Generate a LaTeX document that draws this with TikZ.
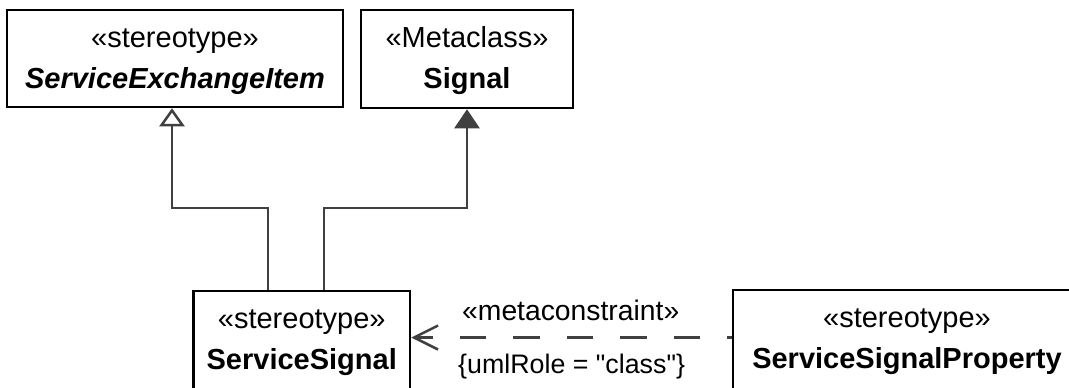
\documentclass[tikz,border=0pt]{standalone}
\usepackage{fontspec}
\setmainfont{Liberation Sans}
\newfontfamily\plainsans{Liberation Sans}[Ligatures=TeXOff]
\usetikzlibrary{arrows.meta}
\definecolor{conncol}{HTML}{404040}
\tikzset{
  umlbox/.style={draw=black, line width=2.5pt, rectangle, inner sep=0pt},
  boxtext/.style={anchor=base, inner sep=0pt, font=\fontsize{29pt}{34pt}\selectfont},
  labeltext/.style={anchor=base west, inner sep=0pt, font=\plainsans\fontsize{#1}{32pt}\selectfont},
  conn/.style={draw=conncol, line width=2.5pt},
}
\begin{document}
\begin{tikzpicture}[x=1pt, y=-1pt]
\useasboundingbox (0,0) rectangle (1069,388);
% boxes
\node[umlbox, minimum width=336pt, minimum height=97pt] (sei) at (175,58.5) {};
\node[umlbox, minimum width=212pt, minimum height=98pt] (sig) at (467,59) {};
\node[umlbox, minimum width=216.5pt, minimum height=149pt] (ss) at (301.75,365.5) {};
\node[umlbox, minimum width=348pt, minimum height=150pt] (ssp) at (907,365) {};
% texts
\node[boxtext] (sei-st) at (175,47) {«stereotype»};
\node[boxtext] (sei-nm) at (175,88) {\bfseries\itshape ServiceExchangeItem};
\node[boxtext] (sig-st) at (467,47) {«Metaclass»};
\node[boxtext] (sig-nm) at (467,88) {\bfseries Signal};
\node[boxtext] (ss-st) at (301.75,328) {«stereotype»};
\node[boxtext] (ss-nm) at (301.75,369) {\bfseries ServiceSignal};
\node[boxtext] (ssp-st) at (907,327) {«stereotype»};
\node[boxtext] (ssp-nm) at (907,368) {\bfseries ServiceSignalProperty};
% connector helpers
\coordinate (j1) at (268,208);
\coordinate (j2) at (324,208);
\coordinate (a1) at (172,0);
\coordinate (dy) at (0,337.5);
% generalization to ServiceExchangeItem (open triangle)
\draw[conn, -{Triangle[open, length=18pt, width=25pt, line width=2.5pt]}]
  (ss.north -| j1) -- (j1) -| (sei.south -| a1);
% extension to Signal (filled triangle)
\draw[conn, -{Triangle[length=19pt, width=25pt, fill=conncol]}]
  (ss.north -| j2) -- (j2) -| (sig.south);
% metaconstraint dependency
\draw[conn, dash pattern=on 26.5pt off 27pt, dash phase=22pt,
      -{Straight Barb[length=24pt, width=24pt, line width=2.5pt]}]
  (ssp.west |- dy) -- (ss.east |- dy);
\node[labeltext=28.3pt] (mc) at (462,320) {«metaconstraint»};
\node[labeltext=26.8pt] (ur) at (458,373) {\{umlRole = "class"\}};
\end{tikzpicture}
\end{document}
